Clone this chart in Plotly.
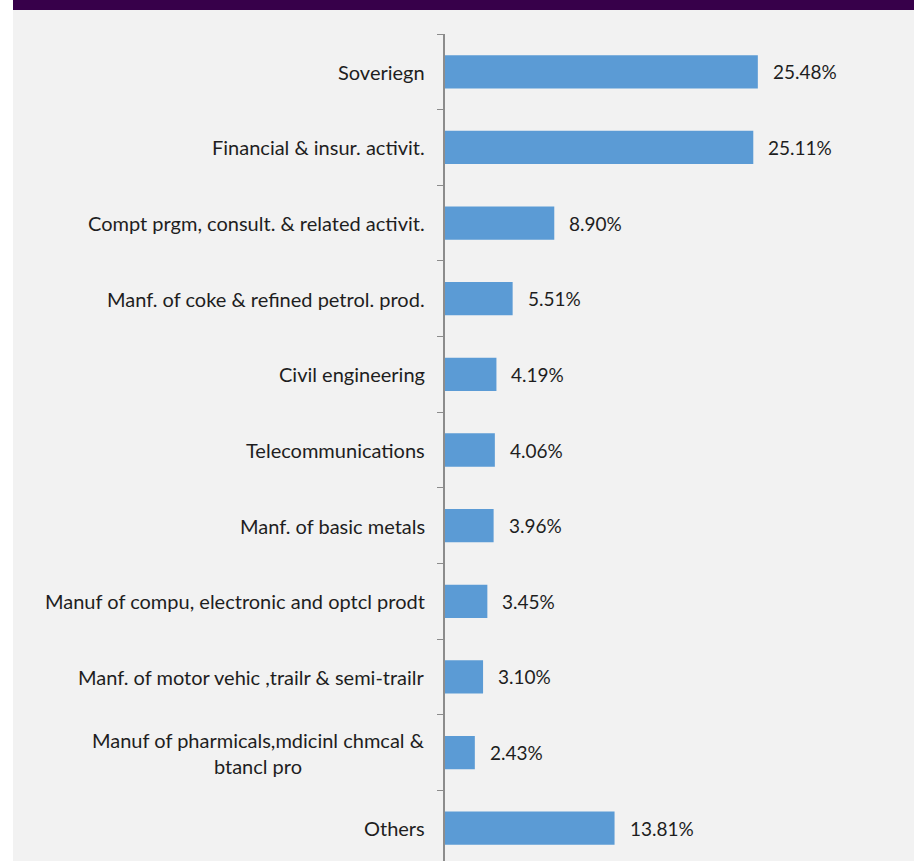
import plotly.graph_objects as go

# Sector shares of the portfolio (percent)
sectors = [
    "Soveriegn",
    "Financial & insur. activit.",
    "Compt prgm, consult. & related activit.",
    "Manf. of coke & refined petrol. prod.",
    "Civil engineering",
    "Telecommunications",
    "Manf. of basic metals",
    "Manuf of compu, electronic and optcl prodt",
    "Manf. of motor vehic ,trailr & semi-trailr",
    "Manuf of pharmicals,mdicinl chmcal &<br>btancl pro",
    "Others",
]
shares = [25.48, 25.11, 8.90, 5.51, 4.19, 4.06, 3.96, 3.45, 3.10, 2.43, 13.81]

W, H = 914, 861
M_L, M_R, M_T, M_B = 445, 0, 34, 0
plot_w = W - M_L - M_R
plot_h = H - M_T - M_B

BG = "#f2f2f2"
BAR = "#5b9bd5"
TXT = "#1e1e1e"
FONT = "Lato"

fig = go.Figure(
    go.Bar(
        x=shares,
        y=sectors,
        orientation="h",
        marker=dict(color=BAR, line=dict(width=0)),
        hoverinfo="skip",
    )
)

# value labels to the right of each bar
annotations = []
for s, v in zip(sectors, shares):
    annotations.append(dict(
        x=v, y=s, xref="x", yref="y", text=f"{v:.2f}%",
        showarrow=False, xanchor="left", yanchor="middle", xshift=13,
        font=dict(family=FONT, size=19, color=TXT),
    ))
    # category names, centred per line, right-aligned against the axis
    annotations.append(dict(
        x=0, y=s, xref="paper", yref="y", text=s,
        showarrow=False, xanchor="right", yanchor="middle", xshift=-18,
        align="center",
        font=dict(family=FONT, size=20, color=TXT),
    ))

def px_x(p):
    return (p - M_L) / plot_w

def px_y(p):
    return 1 - (p - M_T) / plot_h

shapes = [
    # white strip at the left edge
    dict(type="rect", xref="paper", yref="paper", layer="below",
         x0=px_x(0), x1=px_x(13), y0=px_y(H + 5), y1=px_y(-5),
         fillcolor="white", line=dict(width=0)),
    # header band
    dict(type="rect", xref="paper", yref="paper", layer="above",
         x0=px_x(13), x1=px_x(W + 5), y0=px_y(10), y1=px_y(-5),
         fillcolor="#37004a", line=dict(width=0)),
]

n = len(sectors)
fig.update_layout(
    width=W, height=H,
    margin=dict(l=M_L, r=M_R, t=M_T, b=M_B, pad=0),
    paper_bgcolor=BG, plot_bgcolor=BG,
    showlegend=False,
    bargap=0.56,
    annotations=annotations,
    shapes=shapes,
    xaxis=dict(range=[0, 38.2], visible=False, fixedrange=True),
    yaxis=dict(
        type="category",
        categoryorder="array", categoryarray=sectors,
        range=[n - 0.5 - 5 / 75.6, -0.5],
        showticklabels=False,
        showgrid=False, zeroline=False,
        showline=True, linecolor="#8c8c8c", linewidth=1.5,
        ticks="outside", tickson="boundaries", ticklen=6,
        tickcolor="#8c8c8c", tickwidth=1,
    ),
)

fig.write_html("out.html")
